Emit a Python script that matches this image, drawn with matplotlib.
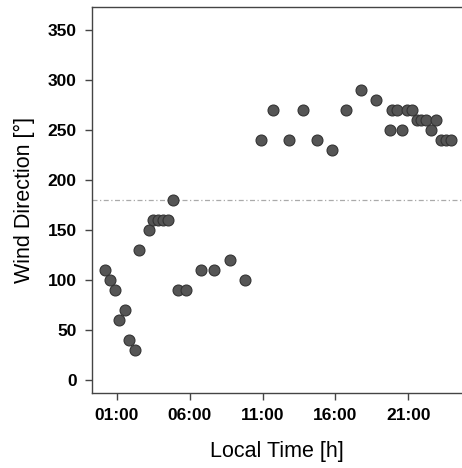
import matplotlib
matplotlib.use("Agg")
import matplotlib.pyplot as plt

hours = [0.17, 0.52, 0.88, 1.16, 1.55, 1.82, 2.23, 2.51, 3.20, 3.50, 3.84, 4.18,
         4.53, 4.87, 5.21, 5.74, 6.75, 7.69, 8.76, 9.79, 10.87, 11.74, 12.84,
         13.80, 14.76, 15.77, 16.74, 17.77, 18.78, 19.76, 19.87, 20.22, 20.58,
         20.90, 21.27, 21.60, 21.89, 22.20, 22.58, 22.90, 23.24, 23.58, 23.93]
direction = [110, 100, 90, 60, 70, 40, 30, 130, 150, 160, 160, 160,
             160, 180, 90, 90, 110, 110, 120, 100, 240, 270, 240,
             270, 240, 230, 270, 290, 280, 250, 270, 270, 250,
             270, 270, 260, 260, 260, 250, 260, 240, 240, 240]
xticks = [1, 6, 11, 16, 21]
xticklabels = ["01:00", "06:00", "11:00", "16:00", "21:00"]
yticks = [0, 50, 100, 150, 200, 250, 300, 350]
ref_line = 180

plt.rcParams['font.family'] = ['Liberation Sans', 'DejaVu Sans']

fig = plt.figure(figsize=(4.62, 4.68), dpi=100)
ax = fig.add_axes([92/462, 1 - 393/468, 1 - 92/462, (393 - 7)/468])

ax.axhline(ref_line, color="#aaaaaa", lw=0.9, ls=(0, (4, 2, 1, 2)), zorder=1)
ax.scatter(hours, direction, s=62, facecolor="#555555", edgecolor="#333333",
           linewidth=0.8, zorder=3)

ax.set_xlim(-0.72, 24.7)
ax.set_ylim(-13, 373)
ax.set_xticks(xticks)
ax.set_xticklabels(xticklabels)
ax.set_yticks(yticks)

for side in ["left", "bottom", "top"]:
    ax.spines[side].set_color("#444444")
    ax.spines[side].set_linewidth(1.0)
ax.spines["right"].set_visible(False)

ax.tick_params(axis="both", direction="out", length=5, width=1.0, color="#444444",
               labelsize=12.5, pad=6)
for lab in ax.get_xticklabels() + ax.get_yticklabels():
    lab.set_fontweight("bold")

ax.set_xlabel("Local Time [h]", fontsize=15.5, labelpad=13)
ax.set_ylabel("Wind Direction [°]", fontsize=15.5, labelpad=9)

fig.savefig("out.png", dpi=100)
